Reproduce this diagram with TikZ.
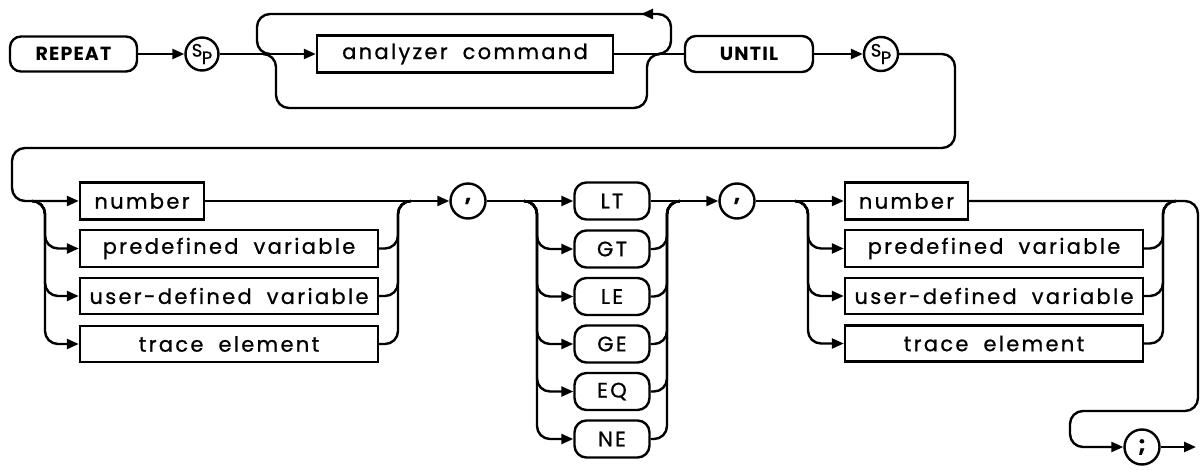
\documentclass[tikz,border=0pt]{standalone}
\usepackage{fontspec}
\setmainfont{Poppins}[LetterSpace=11,WordSpace=1.9,FakeBold=0.8]
\newfontfamily\kwfont{Poppins}[LetterSpace=6]
\newfontfamily\plainfont{Poppins}[FakeBold=0.8]
\usetikzlibrary{arrows.meta}
\newcommand\spsym{{\plainfont\mdseries\fontsize{18}{18}\selectfont\raisebox{2.5pt}{S}\kern-0.5pt\raisebox{-5pt}{P}}}
\tikzset{
  lw/.style={line width=2.4pt},
  tip/.style={-{Triangle[length=12pt,width=10pt]}},
  arr/.style={lw,tip},
  rbox/.style={draw,lw,minimum height=37pt,inner sep=0pt,font=\fontsize{21}{23}\selectfont},
  kbox/.style={rbox,rounded corners=11pt,font=\kwfont\bfseries\fontsize{19}{21}\selectfont},
  opbox/.style={rbox,rounded corners=12pt,minimum width=75pt,minimum height=37pt},
  circ/.style={draw,circle,lw,minimum size=35pt,inner sep=0pt,font=\plainfont\bfseries\fontsize{22}{24}\selectfont},
  rail/.style={lw,rounded corners=13pt}
}
\begin{document}
\begin{tikzpicture}[x=1pt,y=-1pt]
\useasboundingbox (0,0) rectangle (1201,470);
% top row
\node[kbox,minimum width=127pt,minimum height=35pt] (rep) at (73.5,54) {REPEAT};
\node[circ,minimum size=33pt] (sp1) at (202,54) {\spsym};
\node[rbox,minimum width=296pt] (an) at (465,54) {analyzer command};
\node[kbox,minimum width=128pt,minimum height=36pt] (until) at (749,54) {UNTIL};
\node[circ,minimum size=34pt] (sp2) at (881,54) {\spsym};
% second row
\node[rbox,minimum width=124pt] (num1) at (142,201) {number};
\node[rbox,minimum width=298pt] (pv1) at (229,248.5) {predefined variable};
\node[rbox,minimum width=298pt,minimum height=36pt] (ud1) at (229,296) {user-defined variable};
\node[rbox,minimum width=298pt,minimum height=36pt] (te1) at (229,344) {trace element};
\node[circ] (c1) at (468,201) {,};
\node[opbox] (lt) at (612,201) {LT};
\node[opbox] (gt) at (612,249) {GT};
\node[opbox] (le) at (612,296.5) {LE};
\node[opbox] (ge) at (612,344) {GE};
\node[opbox] (eq) at (612,391.5) {EQ};
\node[opbox] (ne) at (612,439) {NE};
\node[circ] (c2) at (737,201) {,};
\node[rbox,minimum width=123pt] (num2) at (906.5,201) {number};
\node[rbox,minimum width=298pt] (pv2) at (994,248.5) {predefined variable};
\node[rbox,minimum width=298pt,minimum height=36pt] (ud2) at (994,296) {user-defined variable};
\node[rbox,minimum width=298pt,minimum height=36pt] (te2) at (994,343.5) {trace element};
\node[circ] (semi) at (1142,447) {;};
\coordinate (fin) at (1196,447);
% junctions
\coordinate (jl) at (263,54);
\coordinate (jr) at (658,54);
\coordinate (s1) at (32,201);
\coordinate (m1) at (411,201);
\coordinate (s2) at (524,201);
\coordinate (m2) at (680,201);
\coordinate (s3) at (795,201);
\coordinate (m3) at (1176,201);
% top row connectors
\draw[arr] (rep) -- (sp1);
\draw[arr] (sp1) -- (an);
\draw[lw] (an) -- (until);
\draw[arr] (until) -- (sp2);
\draw[rail] (jl) -- (276,54) -- (276,108) -- (647,108) -- (647,54) -- (660,54);
\draw[rail,tip] (jr) -- (671,54) -- (671,14) -- (641,14);
\draw[rail] (646,14) -- (257,14) -- (257,54) -- (270,54);
% wrap to second row
\draw[rail,tip] (sp2.east) -- (955,54) -- (955,148) -- (12,148) -- (12,201) -- (num1.west);
% column 1
\foreach \b in {pv1,ud1,te1} {
  \draw[rail,tip] (s1) -- (45,201) |- (\b.west);
  \draw[rail] (\b.east) -| (398,201) -- (m1);
}
\draw[arr] (num1) -- (c1);
% column 2
\draw[arr] (c1) -- (lt);
\foreach \b in {gt,le,ge,eq,ne} {
  \draw[rail,tip] (s2) -- (537,201) |- (\b.west);
  \draw[rail] (\b.east) -| (667,201) -- (m2);
}
\draw[arr] (lt) -- (c2);
% column 3
\draw[arr] (c2) -- (num2);
\foreach \b in {pv2,ud2,te2} {
  \draw[rail,tip] (s3) -- (808,201) |- (\b.west);
  \draw[rail] (\b.east) -| (1163,201) -- (m3);
}
\draw[rail,tip] (num2.east) -- (1198,201) -- (1198,411) -- (1070,411) -- (1070,447) -- (semi.west);
\draw[arr] (semi) -- (fin);
\end{tikzpicture}
\end{document}
